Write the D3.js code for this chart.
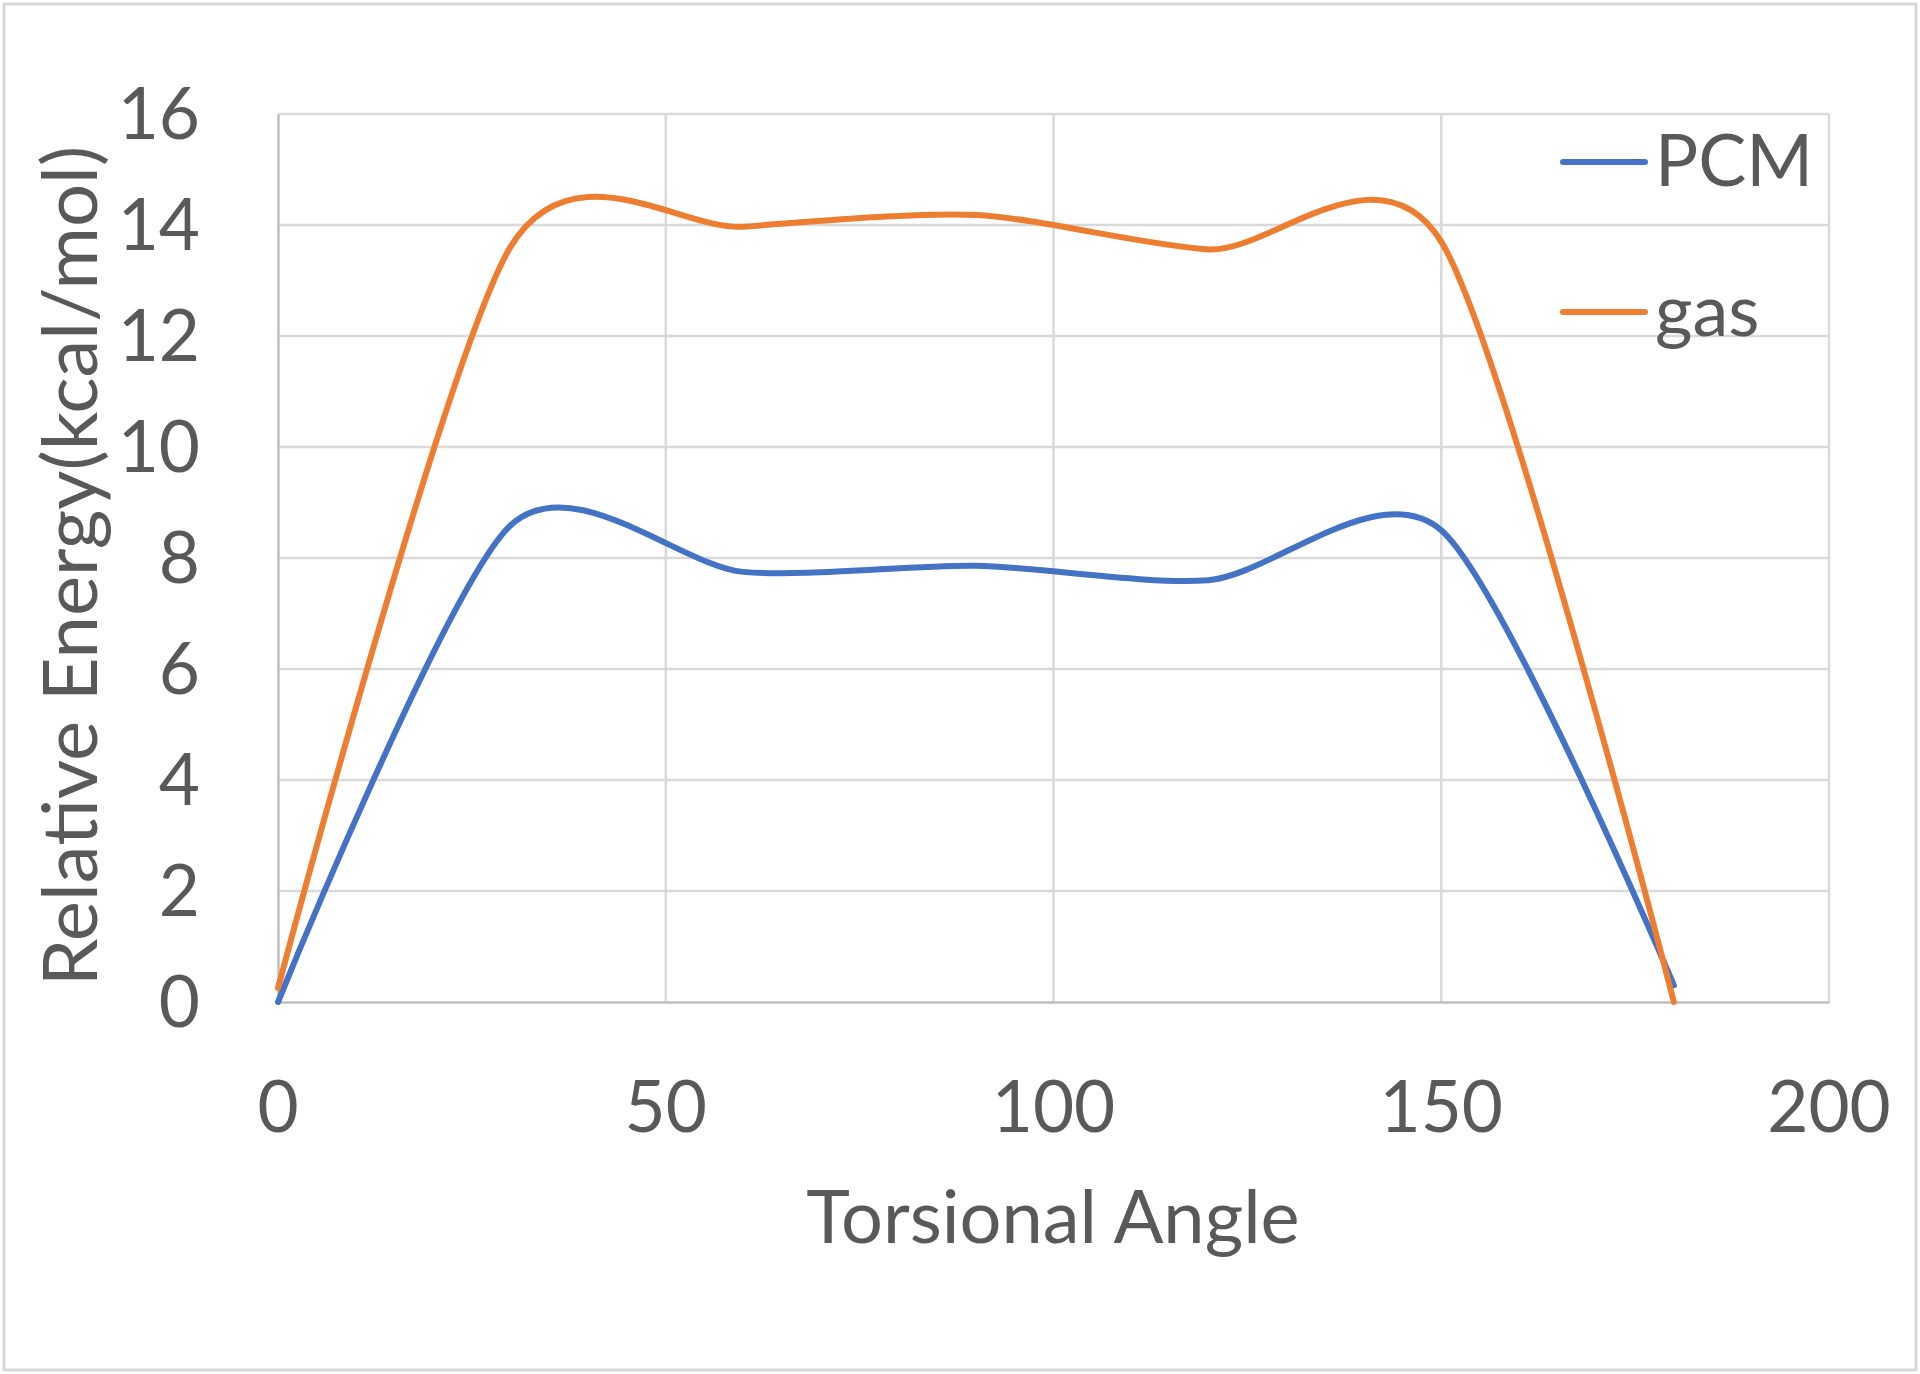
<!DOCTYPE html>
<html>
<head>
<meta charset="utf-8">
<script src="https://cdn.jsdelivr.net/npm/d3@7"></script>
<style>
  html, body { margin: 0; padding: 0; background: #ffffff; }
  svg { display: block; }
  text { font-family: Lato, "Open Sans", "Liberation Sans", sans-serif; fill: #595959; }
</style>
</head>
<body>
<svg id="chart" width="1920" height="1374"></svg>
<script>
// ---- data ----
const angles = [0, 30, 60, 90, 120, 150, 180];
const pcm    = [0, 8.59, 7.75, 7.86, 7.6, 8.5, 0.3];
const gas    = [0.25, 13.61, 13.97, 14.18, 13.56, 13.70, 0];
const seriesNames = ["PCM", "gas"];
const seriesColors = ["#4472C4", "#ED7D31"];
const xTicks = [0, 50, 100, 150, 200];
const yTicks = [0, 2, 4, 6, 8, 10, 12, 14, 16];
const xTitle = "Torsional Angle";
const yTitle = "Relative Energy(kcal/mol)";

// ---- layout ----
const svg = d3.select("#chart");
const W = 1920, H = 1374;
const plot = { left: 278, right: 1829, top: 114, bottom: 1002 };

const x = d3.scaleLinear().domain([0, 200]).range([plot.left, plot.right]);
const y = d3.scaleLinear().domain([0, 16]).range([plot.bottom, plot.top]);

// chart border
svg.append("rect")
  .attr("x", 4).attr("y", 4).attr("width", W - 8).attr("height", H - 8)
  .attr("fill", "#ffffff").attr("stroke", "#d9d9d9").attr("stroke-width", 3);

// gridlines
const grid = svg.append("g");
grid.selectAll("line.h").data(yTicks.filter(d => d > 0)).join("line")
  .attr("x1", plot.left).attr("x2", plot.right)
  .attr("y1", d => y(d)).attr("y2", d => y(d))
  .attr("stroke", "#d9d9d9").attr("stroke-width", 2.5);
grid.selectAll("line.v").data(xTicks.filter(d => d > 0)).join("line")
  .attr("x1", d => x(d)).attr("x2", d => x(d))
  .attr("y1", plot.top).attr("y2", plot.bottom)
  .attr("stroke", "#d9d9d9").attr("stroke-width", 2.5);

// axes lines via d3 axes
const xAxis = svg.append("g").attr("transform", `translate(0,${plot.bottom})`)
  .call(d3.axisBottom(x).tickValues(xTicks).tickSize(0).tickFormat(""));
xAxis.select(".domain").attr("stroke", "#bfbfbf").attr("stroke-width", 2.5);
const yAxis = svg.append("g").attr("transform", `translate(${plot.left},0)`)
  .call(d3.axisLeft(y).tickValues(yTicks).tickSize(0).tickFormat(""));
yAxis.select(".domain").attr("stroke", "#bfbfbf").attr("stroke-width", 2.5);

// tick labels
const tickFS = 71;
svg.append("g").selectAll("text").data(yTicks).join("text")
  .attr("x", 200).attr("y", d => y(d) + tickFS * 0.358)
  .attr("text-anchor", "end").attr("font-size", tickFS)
  .text(d => d);
svg.append("g").selectAll("text").data(xTicks).join("text")
  .attr("x", d => x(d)).attr("y", 1132)
  .attr("text-anchor", "middle").attr("font-size", tickFS)
  .text(d => d);

// axis titles
svg.append("text")
  .attr("x", 1053).attr("y", 1243)
  .attr("text-anchor", "middle").attr("font-size", 74)
  .text(xTitle);
svg.append("text")
  .attr("transform", "translate(97,566) rotate(-90)")
  .attr("text-anchor", "middle").attr("font-size", 76)
  .text(yTitle);

// lines (smoothed like a spreadsheet "smoothed line")
const line = d3.line()
  .x(d => x(d[0])).y(d => y(d[1]))
  .curve(d3.curveCardinal.tension(0.2));
const series = [pcm, gas];
series.forEach((vals, i) => {
  svg.append("path")
    .datum(angles.map((a, j) => [a, vals[j]]))
    .attr("d", line)
    .attr("fill", "none")
    .attr("stroke", seriesColors[i])
    .attr("stroke-width", 6)
    .attr("stroke-linecap", "round")
    .attr("stroke-linejoin", "round");
});

// legend
const legendY = [162, 312];
const leg = svg.append("g");
seriesNames.forEach((name, i) => {
  leg.append("line")
    .attr("x1", 1563).attr("x2", 1645)
    .attr("y1", legendY[i]).attr("y2", legendY[i])
    .attr("stroke", seriesColors[i]).attr("stroke-width", 6)
    .attr("stroke-linecap", "round");
  leg.append("text")
    .attr("x", 1655).attr("y", legendY[i] + 24)
    .attr("font-size", 72)
    .text(name);
});
</script>
</body>
</html>
